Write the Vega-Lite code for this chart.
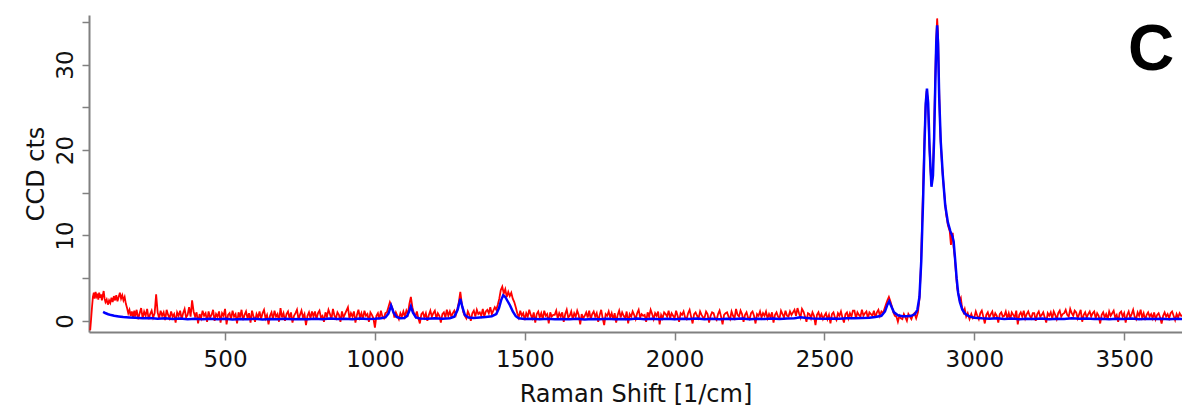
{
  "$schema": "https://vega.github.io/schema/vega-lite/v6.json",
  "autosize": "none",
  "width": 1093,
  "height": 317,
  "padding": {"left": 89, "top": 15, "right": 0, "bottom": 79},
  "background": "white",
  "config": {
    "view": {"stroke": null},
    "axis": {
      "domainColor": "#808080", "domainWidth": 2, "tickColor": "#808080", "tickWidth": 1.5,
      "labelFont": "DejaVu Sans", "labelFontSize": 23, "labelColor": "#111",
      "titleFont": "DejaVu Sans", "titleFontSize": 24, "titleFontWeight": "normal", "titleColor": "#111",
      "grid": false
    }
  },
  "datasets": {
    "red": [
      {"shift":50,"cts":-1.1},{"shift":53,"cts":0.2},{"shift":56,"cts":1.6},{"shift":59,"cts":2.8},{"shift":62,"cts":3.3},{"shift":65,"cts":2.6},{"shift":68,"cts":3.4},{"shift":71,"cts":2.9},{"shift":74,"cts":3.2},{"shift":77,"cts":2.5},{"shift":80,"cts":3.3},{"shift":83,"cts":2.7},{"shift":86,"cts":3.1},{"shift":89,"cts":2.4},{"shift":92,"cts":3.0},{"shift":95,"cts":3.5},{"shift":98,"cts":2.6},{"shift":101,"cts":2.2},{"shift":105,"cts":2.5},{"shift":109,"cts":1.9},{"shift":113,"cts":2.4},{"shift":117,"cts":2.1},{"shift":121,"cts":2.7},{"shift":125,"cts":2.2},{"shift":129,"cts":2.9},{"shift":133,"cts":2.4},{"shift":137,"cts":3.0},{"shift":141,"cts":2.3},{"shift":145,"cts":2.8},{"shift":149,"cts":3.3},{"shift":153,"cts":2.6},{"shift":157,"cts":3.0},{"shift":161,"cts":2.4},{"shift":165,"cts":2.8},{"shift":169,"cts":2.0},{"shift":173,"cts":1.5},{"shift":177,"cts":0.9},{"shift":181,"cts":1.3},{"shift":185,"cts":0.6},{"shift":189,"cts":1.1},{"shift":193,"cts":0.4},{"shift":197,"cts":1.2},
      {"shift":200,"cts":0.5},{"shift":205,"cts":1.3},{"shift":210,"cts":0.2},{"shift":215,"cts":0.9},{"shift":220,"cts":1.5},{"shift":225,"cts":0.3},{"shift":230,"cts":1.1},{"shift":235,"cts":0.6},{"shift":240,"cts":1.4},{"shift":245,"cts":0.2},{"shift":250,"cts":0.8},{"shift":255,"cts":1.2},{"shift":260,"cts":0.4},{"shift":265,"cts":0.9},{"shift":270,"cts":3.1},{"shift":275,"cts":1.0},{"shift":280,"cts":0.3},{"shift":285,"cts":1.2},{"shift":290,"cts":0.6},{"shift":295,"cts":1.0},
      {"shift":300,"cts":0.1},{"shift":305,"cts":1.3},{"shift":310,"cts":0.7},{"shift":315,"cts":0.3},{"shift":320,"cts":1.1},{"shift":325,"cts":0.5},{"shift":330,"cts":0.8},{"shift":335,"cts":-0.2},{"shift":340,"cts":1.0},{"shift":345,"cts":0.6},{"shift":350,"cts":1.2},{"shift":355,"cts":0.2},{"shift":360,"cts":0.9},{"shift":365,"cts":1.4},{"shift":370,"cts":0.4},{"shift":375,"cts":0.7},{"shift":380,"cts":1.6},{"shift":385,"cts":0.5},{"shift":390,"cts":2.4},{"shift":395,"cts":1.1},
      {"shift":400,"cts":0.5},{"shift":405,"cts":1.0},{"shift":410,"cts":-0.3},{"shift":415,"cts":0.8},{"shift":420,"cts":0.3},{"shift":425,"cts":1.2},{"shift":430,"cts":0.6},{"shift":435,"cts":0.9},{"shift":440,"cts":-0.1},{"shift":445,"cts":1.1},{"shift":450,"cts":0.4},{"shift":455,"cts":0.7},{"shift":460,"cts":1.3},{"shift":465,"cts":0.0},{"shift":470,"cts":0.8},{"shift":475,"cts":0.5},{"shift":480,"cts":1.1},{"shift":485,"cts":-0.2},{"shift":490,"cts":0.9},{"shift":495,"cts":0.6},
      {"shift":500,"cts":1.4},{"shift":505,"cts":-0.4},{"shift":510,"cts":0.7},{"shift":515,"cts":0.9},{"shift":520,"cts":0.2},{"shift":525,"cts":1.2},{"shift":530,"cts":0.5},{"shift":535,"cts":0.8},{"shift":540,"cts":-0.3},{"shift":545,"cts":1.0},{"shift":550,"cts":0.4},{"shift":555,"cts":1.3},{"shift":560,"cts":0.1},{"shift":565,"cts":0.7},{"shift":570,"cts":1.1},{"shift":575,"cts":0.3},{"shift":580,"cts":0.9},{"shift":585,"cts":-0.2},{"shift":590,"cts":1.2},{"shift":595,"cts":0.5},
      {"shift":600,"cts":-0.1},{"shift":605,"cts":0.8},{"shift":610,"cts":0.4},{"shift":615,"cts":1.1},{"shift":620,"cts":0.2},{"shift":625,"cts":0.9},{"shift":630,"cts":1.3},{"shift":635,"cts":0.3},{"shift":640,"cts":0.7},{"shift":645,"cts":-0.4},{"shift":650,"cts":0.6},{"shift":655,"cts":1.0},{"shift":660,"cts":0.2},{"shift":665,"cts":1.2},{"shift":670,"cts":0.5},{"shift":675,"cts":0.8},{"shift":680,"cts":-0.1},{"shift":685,"cts":1.5},{"shift":690,"cts":0.4},{"shift":695,"cts":0.9},
      {"shift":700,"cts":0.0},{"shift":705,"cts":0.8},{"shift":710,"cts":1.1},{"shift":715,"cts":0.3},{"shift":720,"cts":1.0},{"shift":725,"cts":-0.2},{"shift":730,"cts":0.6},{"shift":735,"cts":0.9},{"shift":740,"cts":1.3},{"shift":745,"cts":0.2},{"shift":750,"cts":0.7},{"shift":755,"cts":1.2},{"shift":760,"cts":0.4},{"shift":765,"cts":0.8},{"shift":770,"cts":-0.5},{"shift":775,"cts":0.6},{"shift":780,"cts":1.0},{"shift":785,"cts":0.3},{"shift":790,"cts":1.1},{"shift":795,"cts":0.5},
      {"shift":800,"cts":1.1},{"shift":805,"cts":0.2},{"shift":810,"cts":0.9},{"shift":815,"cts":1.2},{"shift":820,"cts":0.4},{"shift":825,"cts":0.6},{"shift":830,"cts":-0.1},{"shift":835,"cts":1.0},{"shift":840,"cts":0.5},{"shift":845,"cts":1.3},{"shift":850,"cts":0.8},{"shift":855,"cts":0.2},{"shift":860,"cts":1.4},{"shift":865,"cts":0.6},{"shift":870,"cts":0.3},{"shift":875,"cts":1.0},{"shift":880,"cts":0.7},{"shift":885,"cts":-0.1},{"shift":890,"cts":1.1},{"shift":895,"cts":0.4},
      {"shift":900,"cts":0.8},{"shift":905,"cts":1.2},{"shift":910,"cts":1.6},{"shift":915,"cts":0.3},{"shift":920,"cts":0.9},{"shift":925,"cts":0.5},{"shift":930,"cts":1.1},{"shift":935,"cts":-0.2},{"shift":940,"cts":0.7},{"shift":945,"cts":1.3},{"shift":950,"cts":0.4},{"shift":955,"cts":0.9},{"shift":960,"cts":0.2},{"shift":965,"cts":1.2},{"shift":970,"cts":0.6},{"shift":975,"cts":0.8},{"shift":980,"cts":-0.1},{"shift":985,"cts":1.0},{"shift":990,"cts":0.7},{"shift":995,"cts":0.3},
      {"shift":1000,"cts":-0.8},{"shift":1005,"cts":0.6},{"shift":1010,"cts":0.9},{"shift":1015,"cts":0.2},{"shift":1020,"cts":1.2},{"shift":1025,"cts":0.5},{"shift":1030,"cts":0.3},{"shift":1035,"cts":0.9},{"shift":1040,"cts":1.0},{"shift":1045,"cts":1.6},{"shift":1050,"cts":2.2},{"shift":1055,"cts":1.8},{"shift":1060,"cts":1.3},{"shift":1065,"cts":0.4},{"shift":1070,"cts":1.0},{"shift":1075,"cts":0.6},{"shift":1080,"cts":0.2},{"shift":1085,"cts":0.9},{"shift":1090,"cts":0.5},{"shift":1095,"cts":1.1},
      {"shift":1100,"cts":0.5},{"shift":1105,"cts":1.2},{"shift":1110,"cts":0.8},{"shift":1115,"cts":2.0},{"shift":1120,"cts":2.8},{"shift":1125,"cts":1.6},{"shift":1130,"cts":0.9},{"shift":1135,"cts":0.5},{"shift":1140,"cts":1.1},{"shift":1145,"cts":0.3},{"shift":1150,"cts":-0.3},{"shift":1155,"cts":0.8},{"shift":1160,"cts":1.0},{"shift":1165,"cts":0.4},{"shift":1170,"cts":0.9},{"shift":1175,"cts":0.0},{"shift":1180,"cts":0.7},{"shift":1185,"cts":1.2},{"shift":1190,"cts":0.5},{"shift":1195,"cts":0.9},
      {"shift":1200,"cts":1.2},{"shift":1205,"cts":0.3},{"shift":1210,"cts":0.9},{"shift":1215,"cts":0.6},{"shift":1220,"cts":-0.2},{"shift":1225,"cts":0.8},{"shift":1230,"cts":1.0},{"shift":1235,"cts":0.4},{"shift":1240,"cts":1.3},{"shift":1245,"cts":0.6},{"shift":1250,"cts":1.1},{"shift":1255,"cts":0.5},{"shift":1260,"cts":0.9},{"shift":1265,"cts":1.2},{"shift":1270,"cts":0.7},{"shift":1275,"cts":1.4},{"shift":1280,"cts":2.2},{"shift":1285,"cts":3.4},{"shift":1290,"cts":2.0},{"shift":1295,"cts":1.0},
      {"shift":1300,"cts":0.6},{"shift":1305,"cts":0.3},{"shift":1310,"cts":1.1},{"shift":1315,"cts":0.7},{"shift":1320,"cts":0.0},{"shift":1325,"cts":0.9},{"shift":1330,"cts":1.2},{"shift":1335,"cts":0.5},{"shift":1340,"cts":1.3},{"shift":1345,"cts":0.8},{"shift":1350,"cts":1.0},{"shift":1355,"cts":0.6},{"shift":1360,"cts":1.4},{"shift":1365,"cts":0.5},{"shift":1370,"cts":1.1},{"shift":1375,"cts":1.3},{"shift":1380,"cts":0.9},{"shift":1385,"cts":1.6},{"shift":1390,"cts":0.8},{"shift":1395,"cts":1.2},
      {"shift":1400,"cts":1.6},{"shift":1405,"cts":1.3},{"shift":1410,"cts":1.9},{"shift":1415,"cts":2.6},{"shift":1420,"cts":3.6},{"shift":1425,"cts":4.0},{"shift":1430,"cts":3.2},{"shift":1435,"cts":3.7},{"shift":1440,"cts":2.8},{"shift":1445,"cts":3.4},{"shift":1450,"cts":2.9},{"shift":1455,"cts":3.3},{"shift":1460,"cts":2.6},{"shift":1465,"cts":2.2},{"shift":1470,"cts":1.6},{"shift":1475,"cts":0.9},{"shift":1480,"cts":0.4},{"shift":1485,"cts":1.2},{"shift":1490,"cts":0.6},{"shift":1495,"cts":0.9},
      {"shift":1500,"cts":0.1},{"shift":1505,"cts":0.9},{"shift":1510,"cts":0.5},{"shift":1515,"cts":1.3},{"shift":1520,"cts":0.7},{"shift":1525,"cts":0.3},{"shift":1530,"cts":1.0},{"shift":1535,"cts":-0.2},{"shift":1540,"cts":0.8},{"shift":1545,"cts":1.1},{"shift":1550,"cts":0.4},{"shift":1555,"cts":0.9},{"shift":1560,"cts":0.2},{"shift":1565,"cts":1.2},{"shift":1570,"cts":0.6},{"shift":1575,"cts":0.8},{"shift":1580,"cts":-0.3},{"shift":1585,"cts":1.0},{"shift":1590,"cts":0.5},{"shift":1595,"cts":0.7},
      {"shift":1600,"cts":0.7},{"shift":1605,"cts":1.2},{"shift":1610,"cts":0.3},{"shift":1615,"cts":0.9},{"shift":1620,"cts":0.5},{"shift":1625,"cts":1.0},{"shift":1630,"cts":-0.1},{"shift":1635,"cts":0.8},{"shift":1640,"cts":1.3},{"shift":1645,"cts":0.4},{"shift":1650,"cts":0.6},{"shift":1655,"cts":1.1},{"shift":1660,"cts":0.2},{"shift":1665,"cts":0.9},{"shift":1670,"cts":0.5},{"shift":1675,"cts":1.2},{"shift":1680,"cts":0.7},{"shift":1685,"cts":-0.4},{"shift":1690,"cts":0.8},{"shift":1695,"cts":0.3},
      {"shift":1700,"cts":0.6},{"shift":1705,"cts":1.0},{"shift":1710,"cts":0.4},{"shift":1715,"cts":1.2},{"shift":1720,"cts":0.2},{"shift":1725,"cts":0.8},{"shift":1730,"cts":1.1},{"shift":1735,"cts":0.5},{"shift":1740,"cts":0.9},{"shift":1745,"cts":-0.1},{"shift":1750,"cts":0.7},{"shift":1755,"cts":1.3},{"shift":1760,"cts":0.3},{"shift":1765,"cts":-0.5},{"shift":1770,"cts":0.8},{"shift":1775,"cts":0.6},{"shift":1780,"cts":1.1},{"shift":1785,"cts":0.4},{"shift":1790,"cts":0.9},{"shift":1795,"cts":0.2},
      {"shift":1800,"cts":0.9},{"shift":1805,"cts":-0.2},{"shift":1810,"cts":0.7},{"shift":1815,"cts":1.2},{"shift":1820,"cts":0.4},{"shift":1825,"cts":1.0},{"shift":1830,"cts":0.6},{"shift":1835,"cts":0.3},{"shift":1840,"cts":1.1},{"shift":1845,"cts":-0.3},{"shift":1850,"cts":0.8},{"shift":1855,"cts":0.5},{"shift":1860,"cts":1.1},{"shift":1865,"cts":0.7},{"shift":1870,"cts":0.2},{"shift":1875,"cts":0.9},{"shift":1880,"cts":1.3},{"shift":1885,"cts":0.4},{"shift":1890,"cts":0.8},{"shift":1895,"cts":0.6},
      {"shift":1900,"cts":0.7},{"shift":1905,"cts":-0.1},{"shift":1910,"cts":1.0},{"shift":1915,"cts":0.5},{"shift":1920,"cts":1.3},{"shift":1925,"cts":0.8},{"shift":1930,"cts":0.2},{"shift":1935,"cts":0.9},{"shift":1940,"cts":0.6},{"shift":1945,"cts":1.1},{"shift":1950,"cts":-0.4},{"shift":1955,"cts":0.7},{"shift":1960,"cts":0.3},{"shift":1965,"cts":1.0},{"shift":1970,"cts":0.8},{"shift":1975,"cts":0.5},{"shift":1980,"cts":1.2},{"shift":1985,"cts":0.3},{"shift":1990,"cts":0.9},{"shift":1995,"cts":0.6},
      {"shift":2000,"cts":0.3},{"shift":2005,"cts":1.2},{"shift":2010,"cts":0.6},{"shift":2015,"cts":-0.1},{"shift":2020,"cts":0.9},{"shift":2025,"cts":0.7},{"shift":2030,"cts":1.1},{"shift":2035,"cts":0.4},{"shift":2040,"cts":0.2},{"shift":2045,"cts":0.9},{"shift":2050,"cts":1.3},{"shift":2055,"cts":0.5},{"shift":2060,"cts":-0.3},{"shift":2065,"cts":0.8},{"shift":2070,"cts":1.0},{"shift":2075,"cts":0.6},{"shift":2080,"cts":0.3},{"shift":2085,"cts":1.1},{"shift":2090,"cts":0.7},{"shift":2095,"cts":0.4},
      {"shift":2100,"cts":0.4},{"shift":2105,"cts":1.1},{"shift":2110,"cts":0.8},{"shift":2115,"cts":-0.2},{"shift":2120,"cts":0.6},{"shift":2125,"cts":1.0},{"shift":2130,"cts":0.9},{"shift":2135,"cts":0.3},{"shift":2140,"cts":0.1},{"shift":2145,"cts":0.8},{"shift":2150,"cts":1.2},{"shift":2155,"cts":0.5},{"shift":2160,"cts":-0.4},{"shift":2165,"cts":0.7},{"shift":2170,"cts":0.9},{"shift":2175,"cts":1.0},{"shift":2180,"cts":0.5},{"shift":2185,"cts":0.2},{"shift":2190,"cts":1.1},{"shift":2195,"cts":0.6},
      {"shift":2200,"cts":0.3},{"shift":2205,"cts":1.4},{"shift":2210,"cts":0.7},{"shift":2215,"cts":0.5},{"shift":2220,"cts":1.2},{"shift":2225,"cts":0.8},{"shift":2230,"cts":-0.1},{"shift":2235,"cts":0.7},{"shift":2240,"cts":1.0},{"shift":2245,"cts":0.4},{"shift":2250,"cts":0.2},{"shift":2255,"cts":0.9},{"shift":2260,"cts":1.1},{"shift":2265,"cts":0.6},{"shift":2270,"cts":-0.3},{"shift":2275,"cts":0.8},{"shift":2280,"cts":0.6},{"shift":2285,"cts":1.1},{"shift":2290,"cts":0.4},{"shift":2295,"cts":0.9},
      {"shift":2300,"cts":0.6},{"shift":2305,"cts":1.1},{"shift":2310,"cts":0.3},{"shift":2315,"cts":0.8},{"shift":2320,"cts":0.4},{"shift":2325,"cts":1.0},{"shift":2330,"cts":-0.2},{"shift":2335,"cts":0.7},{"shift":2340,"cts":1.0},{"shift":2345,"cts":0.5},{"shift":2350,"cts":0.3},{"shift":2355,"cts":1.2},{"shift":2360,"cts":0.8},{"shift":2365,"cts":0.4},{"shift":2370,"cts":1.2},{"shift":2375,"cts":0.6},{"shift":2380,"cts":0.5},{"shift":2385,"cts":1.1},{"shift":2390,"cts":0.7},{"shift":2395,"cts":1.0},
      {"shift":2400,"cts":1.3},{"shift":2405,"cts":0.6},{"shift":2410,"cts":1.5},{"shift":2415,"cts":0.9},{"shift":2420,"cts":0.4},{"shift":2425,"cts":1.4},{"shift":2430,"cts":1.1},{"shift":2435,"cts":0.5},{"shift":2440,"cts":-0.1},{"shift":2445,"cts":0.9},{"shift":2450,"cts":0.8},{"shift":2455,"cts":0.3},{"shift":2460,"cts":1.0},{"shift":2465,"cts":0.6},{"shift":2470,"cts":-0.5},{"shift":2475,"cts":0.7},{"shift":2480,"cts":1.0},{"shift":2485,"cts":0.4},{"shift":2490,"cts":0.8},{"shift":2495,"cts":0.2},
      {"shift":2500,"cts":0.6},{"shift":2505,"cts":0.9},{"shift":2510,"cts":0.2},{"shift":2515,"cts":0.7},{"shift":2520,"cts":-0.3},{"shift":2525,"cts":0.8},{"shift":2530,"cts":1.0},{"shift":2535,"cts":0.4},{"shift":2540,"cts":0.1},{"shift":2545,"cts":0.9},{"shift":2550,"cts":0.6},{"shift":2555,"cts":1.1},{"shift":2560,"cts":0.4},{"shift":2565,"cts":-0.2},{"shift":2570,"cts":0.8},{"shift":2575,"cts":1.0},{"shift":2580,"cts":0.3},{"shift":2585,"cts":0.9},{"shift":2590,"cts":0.5},{"shift":2595,"cts":1.2},
      {"shift":2600,"cts":1.2},{"shift":2605,"cts":0.3},{"shift":2610,"cts":1.0},{"shift":2615,"cts":0.7},{"shift":2620,"cts":0.5},{"shift":2625,"cts":1.3},{"shift":2630,"cts":0.6},{"shift":2635,"cts":0.9},{"shift":2640,"cts":1.1},{"shift":2645,"cts":0.3},{"shift":2650,"cts":1.0},{"shift":2655,"cts":0.8},{"shift":2660,"cts":0.6},{"shift":2665,"cts":1.2},{"shift":2670,"cts":0.4},{"shift":2675,"cts":1.0},{"shift":2680,"cts":1.3},{"shift":2685,"cts":0.6},{"shift":2690,"cts":1.1},{"shift":2695,"cts":0.9},
      {"shift":2700,"cts":1.4},{"shift":2705,"cts":1.9},{"shift":2710,"cts":2.4},{"shift":2715,"cts":2.8},{"shift":2720,"cts":2.3},{"shift":2725,"cts":1.7},{"shift":2730,"cts":1.0},{"shift":2735,"cts":0.6},{"shift":2740,"cts":0.5},{"shift":2745,"cts":-0.1},{"shift":2750,"cts":0.6},{"shift":2755,"cts":0.3},{"shift":2760,"cts":0.2},{"shift":2765,"cts":0.8},{"shift":2770,"cts":0.4},{"shift":2775,"cts":0.0},{"shift":2780,"cts":0.8},{"shift":2785,"cts":0.5},{"shift":2790,"cts":0.2},{"shift":2795,"cts":0.7},
      {"shift":2800,"cts":0.9},{"shift":2806,"cts":0.3},{"shift":2812,"cts":1.0},{"shift":2817,"cts":2.6},{"shift":2822,"cts":6.5},{"shift":2828,"cts":14.2},{"shift":2833,"cts":20.5},{"shift":2837,"cts":25.0},{"shift":2841,"cts":26.9},{"shift":2845,"cts":25.8},{"shift":2850,"cts":20.5},{"shift":2854,"cts":17.5},{"shift":2857,"cts":16.0},{"shift":2861,"cts":16.8},{"shift":2865,"cts":21.0},{"shift":2869,"cts":27.5},{"shift":2873,"cts":33.0},{"shift":2876,"cts":35.4},{"shift":2879,"cts":33.5},{"shift":2883,"cts":26.5},{"shift":2887,"cts":21.5},{"shift":2893,"cts":17.8},{"shift":2900,"cts":14.8},{"shift":2906,"cts":12.5},{"shift":2912,"cts":11.2},{"shift":2918,"cts":10.5},{"shift":2922,"cts":8.9},{"shift":2925,"cts":9.9},{"shift":2928,"cts":10.3},{"shift":2931,"cts":8.6},{"shift":2935,"cts":7.4},{"shift":2939,"cts":5.5},{"shift":2943,"cts":3.8},{"shift":2947,"cts":3.1},{"shift":2951,"cts":2.4},{"shift":2955,"cts":2.7},{"shift":2959,"cts":1.6},{"shift":2964,"cts":1.0},{"shift":2968,"cts":1.4},{"shift":2973,"cts":0.5},{"shift":2978,"cts":0.9},{"shift":2984,"cts":0.2},{"shift":2990,"cts":0.8},{"shift":2995,"cts":0.3},
      {"shift":3000,"cts":0.4},{"shift":3005,"cts":1.1},{"shift":3010,"cts":0.6},{"shift":3015,"cts":0.2},{"shift":3020,"cts":0.9},{"shift":3025,"cts":1.2},{"shift":3030,"cts":0.5},{"shift":3035,"cts":-0.3},{"shift":3040,"cts":0.7},{"shift":3045,"cts":1.0},{"shift":3050,"cts":0.4},{"shift":3055,"cts":0.8},{"shift":3060,"cts":1.1},{"shift":3065,"cts":0.3},{"shift":3070,"cts":0.9},{"shift":3075,"cts":0.6},{"shift":3080,"cts":-0.2},{"shift":3085,"cts":0.8},{"shift":3090,"cts":1.0},{"shift":3095,"cts":0.5},
      {"shift":3100,"cts":0.6},{"shift":3105,"cts":1.1},{"shift":3110,"cts":0.3},{"shift":3115,"cts":0.9},{"shift":3120,"cts":0.2},{"shift":3125,"cts":1.0},{"shift":3130,"cts":0.7},{"shift":3135,"cts":0.4},{"shift":3140,"cts":1.2},{"shift":3145,"cts":-0.4},{"shift":3150,"cts":0.7},{"shift":3155,"cts":1.0},{"shift":3160,"cts":0.5},{"shift":3165,"cts":1.2},{"shift":3170,"cts":0.3},{"shift":3175,"cts":0.8},{"shift":3180,"cts":1.1},{"shift":3185,"cts":0.6},{"shift":3190,"cts":0.3},{"shift":3195,"cts":0.9},
      {"shift":3200,"cts":0.9},{"shift":3205,"cts":0.0},{"shift":3210,"cts":0.8},{"shift":3215,"cts":1.1},{"shift":3220,"cts":0.5},{"shift":3225,"cts":0.7},{"shift":3230,"cts":1.0},{"shift":3235,"cts":0.4},{"shift":3240,"cts":-0.2},{"shift":3245,"cts":0.9},{"shift":3250,"cts":0.6},{"shift":3255,"cts":1.0},{"shift":3260,"cts":0.3},{"shift":3265,"cts":1.1},{"shift":3270,"cts":0.7},{"shift":3275,"cts":0.2},{"shift":3280,"cts":0.9},{"shift":3285,"cts":1.2},{"shift":3290,"cts":0.5},{"shift":3295,"cts":0.8},
      {"shift":3300,"cts":0.9},{"shift":3305,"cts":1.3},{"shift":3310,"cts":0.7},{"shift":3315,"cts":0.5},{"shift":3320,"cts":1.4},{"shift":3325,"cts":0.9},{"shift":3330,"cts":0.6},{"shift":3335,"cts":1.2},{"shift":3340,"cts":1.0},{"shift":3345,"cts":0.3},{"shift":3350,"cts":0.8},{"shift":3355,"cts":1.3},{"shift":3360,"cts":-0.1},{"shift":3365,"cts":0.7},{"shift":3370,"cts":1.0},{"shift":3375,"cts":0.4},{"shift":3380,"cts":0.8},{"shift":3385,"cts":1.1},{"shift":3390,"cts":0.5},{"shift":3395,"cts":0.9},
      {"shift":3400,"cts":1.1},{"shift":3405,"cts":0.3},{"shift":3410,"cts":0.9},{"shift":3415,"cts":0.6},{"shift":3420,"cts":-0.3},{"shift":3425,"cts":0.7},{"shift":3430,"cts":1.0},{"shift":3435,"cts":0.4},{"shift":3440,"cts":0.8},{"shift":3445,"cts":0.2},{"shift":3450,"cts":1.1},{"shift":3455,"cts":0.6},{"shift":3460,"cts":0.9},{"shift":3465,"cts":1.2},{"shift":3470,"cts":0.4},{"shift":3475,"cts":0.7},{"shift":3480,"cts":-0.1},{"shift":3485,"cts":0.9},{"shift":3490,"cts":1.1},{"shift":3495,"cts":0.5},
      {"shift":3500,"cts":0.9},{"shift":3505,"cts":-0.2},{"shift":3510,"cts":0.7},{"shift":3515,"cts":1.1},{"shift":3520,"cts":0.4},{"shift":3525,"cts":0.8},{"shift":3530,"cts":1.3},{"shift":3535,"cts":0.5},{"shift":3540,"cts":0.2},{"shift":3545,"cts":1.0},{"shift":3550,"cts":0.6},{"shift":3555,"cts":1.3},{"shift":3560,"cts":0.4},{"shift":3565,"cts":0.9},{"shift":3570,"cts":0.1},{"shift":3575,"cts":0.7},{"shift":3580,"cts":1.0},{"shift":3585,"cts":0.5},{"shift":3590,"cts":0.8},{"shift":3595,"cts":0.3},
      {"shift":3600,"cts":1.0},{"shift":3605,"cts":0.2},{"shift":3610,"cts":0.7},{"shift":3615,"cts":0.9},{"shift":3620,"cts":0.4},{"shift":3625,"cts":-0.3},{"shift":3630,"cts":0.6},{"shift":3635,"cts":1.0},{"shift":3640,"cts":0.5},{"shift":3645,"cts":0.8},{"shift":3650,"cts":0.3},{"shift":3655,"cts":0.9},{"shift":3660,"cts":1.1},{"shift":3665,"cts":0.6},{"shift":3670,"cts":0.1},{"shift":3675,"cts":0.8},{"shift":3680,"cts":0.4},{"shift":3685,"cts":0.9},{"shift":3690,"cts":0.6},{"shift":3693,"cts":0.6}
    ],
    "blue": [
      {"shift":93,"cts":1.05},{"shift":100,"cts":0.92},{"shift":110,"cts":0.78},{"shift":120,"cts":0.68},{"shift":130,"cts":0.6},{"shift":145,"cts":0.52},{"shift":160,"cts":0.45},{"shift":180,"cts":0.4},{"shift":200,"cts":0.36},{"shift":225,"cts":0.3},{"shift":250,"cts":0.33},{"shift":275,"cts":0.26},{"shift":300,"cts":0.3},{"shift":325,"cts":0.22},{"shift":350,"cts":0.27},{"shift":375,"cts":0.2},{"shift":400,"cts":0.25},{"shift":425,"cts":0.18},{"shift":450,"cts":0.24},{"shift":475,"cts":0.2},
      {"shift":500,"cts":0.26},{"shift":525,"cts":0.17},{"shift":550,"cts":0.22},{"shift":575,"cts":0.19},{"shift":600,"cts":0.25},{"shift":625,"cts":0.16},{"shift":650,"cts":0.22},{"shift":675,"cts":0.2},{"shift":700,"cts":0.26},{"shift":725,"cts":0.18},{"shift":750,"cts":0.23},{"shift":775,"cts":0.19},{"shift":800,"cts":0.24},{"shift":825,"cts":0.2},{"shift":850,"cts":0.27},{"shift":875,"cts":0.22},{"shift":900,"cts":0.26},{"shift":925,"cts":0.2},{"shift":950,"cts":0.28},{"shift":975,"cts":0.22},
      {"shift":1000,"cts":0.25},{"shift":1020,"cts":0.3},{"shift":1035,"cts":0.4},{"shift":1045,"cts":0.85},{"shift":1054,"cts":1.8},{"shift":1062,"cts":1.0},{"shift":1072,"cts":0.45},{"shift":1085,"cts":0.32},{"shift":1098,"cts":0.35},{"shift":1107,"cts":0.55},{"shift":1114,"cts":1.1},{"shift":1120,"cts":1.7},{"shift":1127,"cts":0.95},{"shift":1137,"cts":0.4},{"shift":1150,"cts":0.28},{"shift":1175,"cts":0.24},{"shift":1200,"cts":0.3},{"shift":1225,"cts":0.26},{"shift":1250,"cts":0.32},{"shift":1265,"cts":0.5},{"shift":1276,"cts":1.3},{"shift":1285,"cts":2.6},{"shift":1292,"cts":1.6},{"shift":1300,"cts":0.7},{"shift":1312,"cts":0.4},{"shift":1330,"cts":0.35},{"shift":1350,"cts":0.4},{"shift":1370,"cts":0.45},{"shift":1390,"cts":0.55},
      {"shift":1405,"cts":0.8},{"shift":1414,"cts":1.5},{"shift":1421,"cts":2.4},{"shift":1428,"cts":3.0},{"shift":1435,"cts":2.8},{"shift":1443,"cts":2.3},{"shift":1451,"cts":1.8},{"shift":1460,"cts":1.1},{"shift":1470,"cts":0.55},{"shift":1480,"cts":0.3},{"shift":1500,"cts":0.22},{"shift":1525,"cts":0.25},{"shift":1550,"cts":0.2},{"shift":1575,"cts":0.24},{"shift":1600,"cts":0.18},{"shift":1625,"cts":0.23},{"shift":1650,"cts":0.19},{"shift":1675,"cts":0.25},{"shift":1700,"cts":0.17},{"shift":1725,"cts":0.22},{"shift":1750,"cts":0.2},{"shift":1775,"cts":0.26},{"shift":1800,"cts":0.18},{"shift":1825,"cts":0.23},{"shift":1850,"cts":0.2},{"shift":1875,"cts":0.27},{"shift":1900,"cts":0.19},{"shift":1925,"cts":0.24},{"shift":1950,"cts":0.2},{"shift":1975,"cts":0.26},
      {"shift":2000,"cts":0.18},{"shift":2025,"cts":0.24},{"shift":2050,"cts":0.21},{"shift":2075,"cts":0.27},{"shift":2100,"cts":0.2},{"shift":2125,"cts":0.25},{"shift":2150,"cts":0.19},{"shift":2175,"cts":0.24},{"shift":2200,"cts":0.21},{"shift":2225,"cts":0.27},{"shift":2250,"cts":0.2},{"shift":2275,"cts":0.25},{"shift":2300,"cts":0.22},{"shift":2325,"cts":0.28},{"shift":2350,"cts":0.21},{"shift":2375,"cts":0.27},{"shift":2400,"cts":0.3},{"shift":2420,"cts":0.42},{"shift":2440,"cts":0.35},{"shift":2460,"cts":0.28},{"shift":2500,"cts":0.24},{"shift":2525,"cts":0.27},{"shift":2550,"cts":0.25},{"shift":2575,"cts":0.3},{"shift":2600,"cts":0.3},{"shift":2625,"cts":0.35},{"shift":2650,"cts":0.38},{"shift":2670,"cts":0.45},{"shift":2690,"cts":0.6},
      {"shift":2702,"cts":1.1},{"shift":2710,"cts":1.9},{"shift":2716,"cts":2.3},{"shift":2723,"cts":1.7},{"shift":2732,"cts":1.0},{"shift":2745,"cts":0.65},{"shift":2760,"cts":0.55},{"shift":2775,"cts":0.55},{"shift":2790,"cts":0.6},{"shift":2802,"cts":0.8},{"shift":2810,"cts":1.3},{"shift":2817,"cts":2.8},{"shift":2823,"cts":7.0},{"shift":2829,"cts":14.0},{"shift":2834,"cts":21.0},{"shift":2838,"cts":25.5},{"shift":2842,"cts":27.2},{"shift":2846,"cts":25.5},{"shift":2851,"cts":20.0},{"shift":2857,"cts":15.7},{"shift":2862,"cts":17.0},{"shift":2866,"cts":21.5},{"shift":2870,"cts":28.0},{"shift":2873,"cts":32.5},{"shift":2876,"cts":34.6},{"shift":2879,"cts":32.5},{"shift":2883,"cts":26.0},{"shift":2888,"cts":21.0},{"shift":2895,"cts":17.0},{"shift":2903,"cts":13.5},{"shift":2912,"cts":11.5},{"shift":2920,"cts":10.5},{"shift":2927,"cts":9.9},{"shift":2931,"cts":9.3},{"shift":2936,"cts":7.2},{"shift":2941,"cts":5.0},{"shift":2946,"cts":3.3},{"shift":2952,"cts":2.2},{"shift":2960,"cts":1.3},{"shift":2970,"cts":0.8},{"shift":2985,"cts":0.5},
      {"shift":3000,"cts":0.38},{"shift":3025,"cts":0.3},{"shift":3050,"cts":0.26},{"shift":3075,"cts":0.3},{"shift":3100,"cts":0.22},{"shift":3125,"cts":0.27},{"shift":3150,"cts":0.2},{"shift":3175,"cts":0.26},{"shift":3200,"cts":0.21},{"shift":3225,"cts":0.27},{"shift":3250,"cts":0.2},{"shift":3275,"cts":0.25},{"shift":3300,"cts":0.22},{"shift":3325,"cts":0.3},{"shift":3350,"cts":0.25},{"shift":3375,"cts":0.28},{"shift":3400,"cts":0.21},{"shift":3425,"cts":0.26},{"shift":3450,"cts":0.2},{"shift":3475,"cts":0.25},{"shift":3500,"cts":0.22},{"shift":3525,"cts":0.27},{"shift":3550,"cts":0.2},{"shift":3575,"cts":0.26},{"shift":3600,"cts":0.21},{"shift":3625,"cts":0.25},{"shift":3650,"cts":0.19},{"shift":3675,"cts":0.24},{"shift":3693,"cts":0.22}
    ]
  },
  "layer": [
    {
      "data": {"name": "red"},
      "mark": {"type": "line", "color": "#ff0000", "strokeWidth": 1.8, "clip": true},
      "encoding": {
        "x": {"field": "shift", "type": "quantitative", "scale": {"domain": [46, 3693], "nice": false, "zero": false},
          "axis": {"title": "Raman Shift [1/cm]", "format": "d", "values": [500, 1000, 1500, 2000, 2500, 3000, 3500], "tickSize": 8, "labelPadding": 8, "titlePadding": 11, "labelFlush": false}},
        "y": {"field": "cts", "type": "quantitative", "scale": {"domain": [-1.3, 35.8], "nice": false, "zero": false},
          "axis": {"title": "CCD cts", "values": [0, 5, 10, 15, 20, 25, 30, 35], "labelExpr": "datum.value % 10 === 0 ? datum.label : ''", "tickSize": 7, "labelAngle": -90, "labelAlign": "center", "labelBaseline": "bottom", "labelPadding": 5, "titlePadding": 6, "labelFlush": false}}
      }
    },
    {
      "data": {"name": "blue"},
      "mark": {"type": "line", "color": "#0000ff", "strokeWidth": 2.5, "clip": true},
      "encoding": {
        "x": {"field": "shift", "type": "quantitative"},
        "y": {"field": "cts", "type": "quantitative"}
      }
    },
    {
      "data": {"values": [{"label": "C"}]},
      "mark": {"type": "text", "font": "Liberation Sans", "fontSize": 64, "fontWeight": "bold", "color": "#000", "align": "center", "baseline": "middle"},
      "encoding": {
        "x": {"datum": 3590},
        "y": {"datum": 31.6},
        "text": {"field": "label"}
      }
    }
  ]
}
